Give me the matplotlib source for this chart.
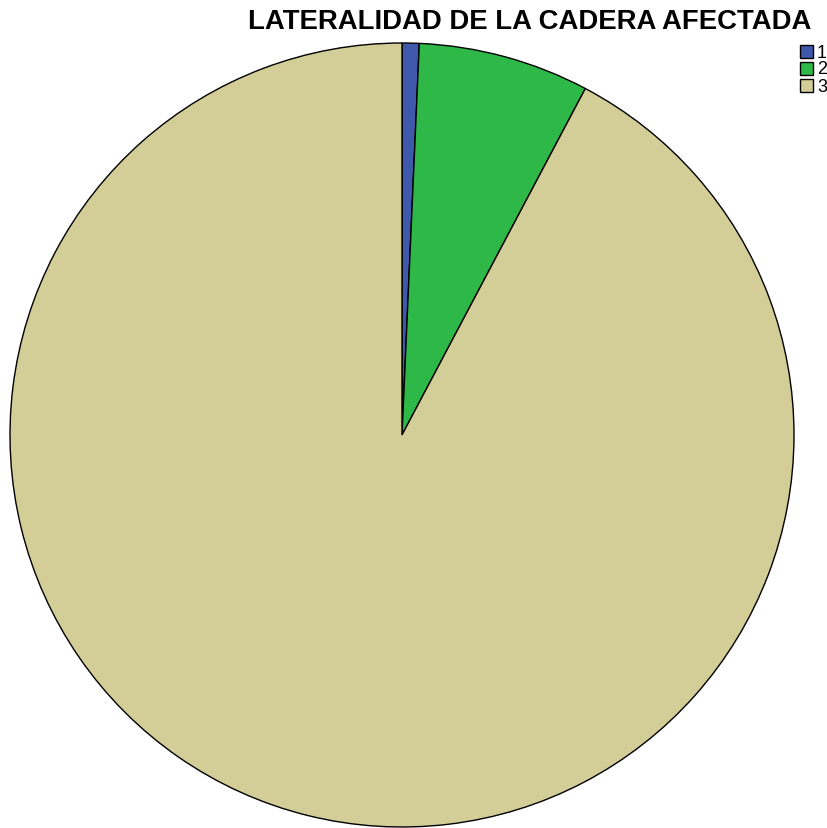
import matplotlib.pyplot as plt
from matplotlib.patches import Rectangle

# hip laterality counts (1, 2, 3)
labels = ['1', '2', '3']
counts = [1, 10, 131]
colors = ['#3E58AC', '#2EB848', '#D3CE97']
title = 'LATERALIDAD DE LA CADERA AFECTADA'

W, H = 828, 829
fig = plt.figure(figsize=(W / 100, H / 100), dpi=100)

# pie axes: centre (402, 436) px, radius 392 px
r = 392
cx, cy = 402, 436
ax = fig.add_axes([(cx - r) / W, (H - cy - r) / H, 2 * r / W, 2 * r / H])
ax.pie(counts, colors=colors, startangle=90, counterclock=False, radius=1,
       wedgeprops=dict(edgecolor='black', linewidth=1.0))
ax.set_xlim(-1, 1)
ax.set_ylim(-1, 1)
ax.set_aspect('auto')
ax.axis('off')

fig.text(530 / W, 1 - 22 / H, title, ha='center', va='center',
         fontsize=19.8, fontweight='bold', family='Liberation Sans')

# legend boxes on the right edge
for i, (lab, col) in enumerate(zip(labels, colors)):
    top = 46 + i * 17
    fig.patches.append(Rectangle((800 / W, 1 - (top + 13) / H), 13 / W, 13 / H,
                                 transform=fig.transFigure, facecolor=col,
                                 edgecolor='black', linewidth=1.0))
    fig.text(817 / W, 1 - (top + 7) / H, lab, ha='left', va='center',
             fontsize=13, family='Liberation Sans')

fig.savefig('out.png', dpi=100)
